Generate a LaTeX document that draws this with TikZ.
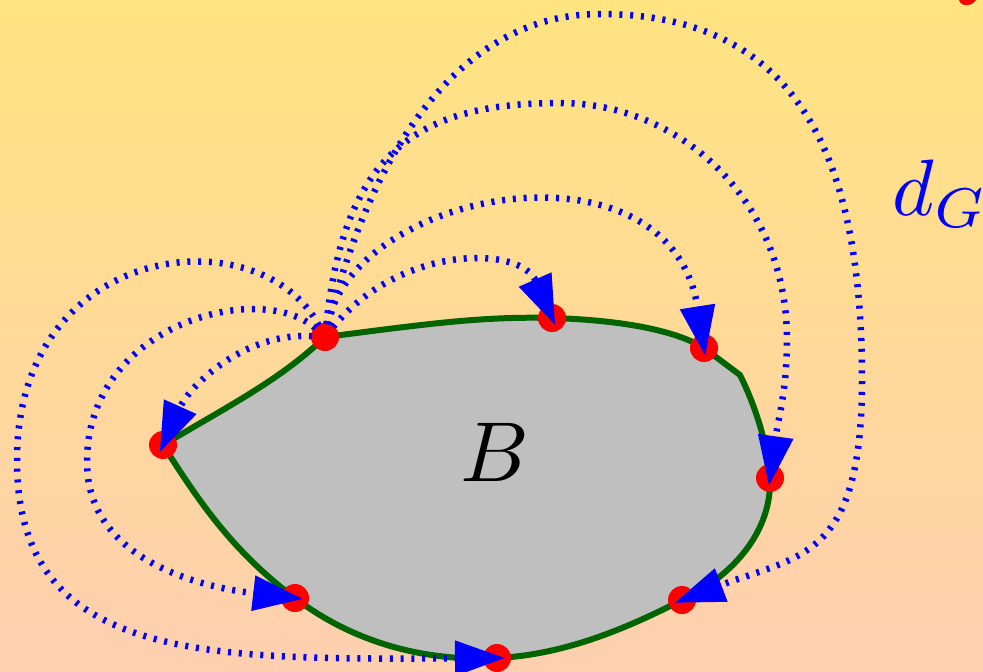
\documentclass[tikz,border=0pt]{standalone}
\usepackage{graphicx}
\usetikzlibrary{arrows.meta}
\definecolor{fondoarriba}{RGB}{255,228,128}
\definecolor{fondoabajo}{RGB}{255,207,176}
\definecolor{verdeborde}{RGB}{0,100,0}
\begin{document}
\begin{tikzpicture}[x=1pt, y=-1pt,
    borde/.style={draw=verdeborde, fill=black!25, line width=6pt, line join=round},
    geodesica/.style={blue, line width=6.5pt, dash pattern=on 3pt off 7.8pt,
        -{Triangle[length=50pt, width=34pt]}, shorten <=13pt, shorten >=-8pt},
    punto/.style={red}]

    % Fondo degradado
    \shade[top color=fondoarriba, bottom color=fondoabajo] (0,0) rectangle (983,672);
    \useasboundingbox (0,0) rectangle (983,672);
    \fill[red] (959,0) .. controls (961,7) and (971,7) .. (976,0) -- cycle;

    % Puntos sobre la frontera de B
    \coordinate (p0) at (325,337);
    \coordinate (p1) at (552,318);
    \coordinate (p2) at (704,348);
    \coordinate (p3) at (770,478);
    \coordinate (p4) at (682,600);
    \coordinate (p5) at (497,658);
    \coordinate (p6) at (295,598);
    \coordinate (p7) at (163,445);

    % Region B
    \filldraw[borde] (p0) .. controls (420,325) and (480,316) .. (p1)
        .. controls (620,320) and (675,330) .. (p2)
        -- (740,375)
        .. controls (755,405) and (768,445) .. (p3)
        .. controls (772,530) and (735,575) .. (p4)
        .. controls (620,632) and (560,655) .. (p5)
        .. controls (420,662) and (350,640) .. (p6)
        .. controls (230,550) and (195,495) .. (p7)
        .. controls (230,405) and (280,380) .. cycle;
    \node (letraB) at (495,452) {\scalebox{8.5}{$B$}};

    % Puntos rojos
    \foreach \p in {p0,p1,p2,p3,p4,p5,p6,p7}
        \fill[punto] (\p) circle (14pt);

    % Curvas punteadas desde p0 (lado izquierdo)
    \draw[geodesica] (p0) .. controls (245,332) and (190,385) .. (p7);
    \draw[geodesica] (p0) .. controls (262,280) and (87,322) .. (87,462)
        .. controls (87,560) and (200,587) .. (p6);
    \draw[geodesica] (p0) .. controls (260,215) and (17,240) .. (17,460)
        .. controls (17,660) and (200,660) .. (p5);

    % Curvas punteadas desde p0 (lado derecho)
    \draw[geodesica] (p0) .. controls (400,245) and (520,245) .. (p1);
    \draw[geodesica] (p0) .. controls (355,188) and (670,132) .. (p2);
    \draw[geodesica] (p0) .. controls (345,150) and (420,103) .. (560,103)
        .. controls (680,103) and (787,200) .. (787,340)
        .. controls (787,390) and (778,420) .. (p3);
    \draw[geodesica] (p0) .. controls (372,150) and (460,14) .. (600,14)
        .. controls (800,14) and (862,160) .. (862,380)
        .. controls (862,560) and (800,555) .. (p4);

    % Etiqueta de la distancia
    \node[blue, anchor=base west] (etiqueta) at (889,215) {\scalebox{8}{$d_G$}};

\end{tikzpicture}
\end{document}
